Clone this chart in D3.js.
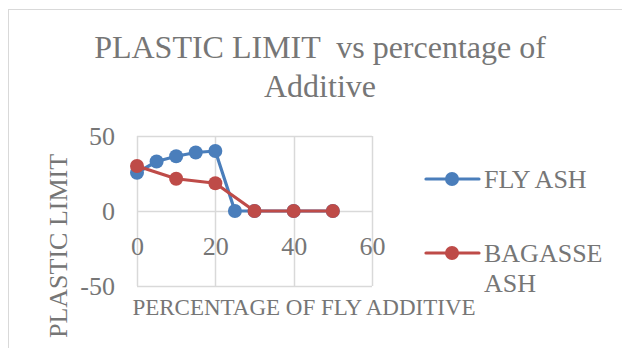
<!DOCTYPE html>
<html>
<head>
<meta charset="utf-8">
<script src="https://cdn.jsdelivr.net/npm/d3@7/dist/d3.min.js"></script>
<style>
  html, body { margin: 0; padding: 0; background: #fff; }
  svg { display: block; }
  text { font-family: "Liberation Serif", "Times New Roman", serif; fill: #767676; }
</style>
</head>
<body>
<svg id="chart" width="622" height="348"></svg>
<script>
// Percentage of additive (x) and plastic limit (y) for each additive
const flyAshX = [0, 5, 10, 15, 20, 25, 30, 40, 50];
const flyAshY = [25.5, 33, 36.5, 39, 40, 0, 0, 0, 0];
const bagasseX = [0, 10, 20, 30, 40, 50];
const bagasseY = [30, 21.5, 18.5, 0, 0, 0];

const xTicks = [0, 20, 40, 60];
const yTicks = [-50, 0, 50];

const seriesNames = ["FLY ASH", "BAGASSE ASH"];
const colors = ["#4a7ebb", "#be4b48"];

const serif = '"Liberation Serif", "Times New Roman", serif';
const svg = d3.select("#chart");

// outer chart frame
svg.append("rect")
  .attr("x", 8.5).attr("y", 9.5)
  .attr("width", 640).attr("height", 360)
  .attr("fill", "none").attr("stroke", "#d9d9d9").attr("stroke-width", 1);

const x = d3.scaleLinear().domain([0, 60]).range([137, 372]);
const y = d3.scaleLinear().domain([-50, 50]).range([286, 136]);

// gridlines
const grid = svg.append("g");
grid.selectAll("line.h").data(yTicks).join("line")
  .attr("x1", x(0)).attr("x2", x(60))
  .attr("y1", d => Math.round(y(d)) + 0.5).attr("y2", d => Math.round(y(d)) + 0.5)
  .attr("stroke", "#d9d9d9").attr("stroke-width", 1.5);
grid.selectAll("line.v").data(xTicks).join("line")
  .attr("y1", y(50)).attr("y2", y(-50))
  .attr("x1", d => Math.round(x(d)) + 0.5).attr("x2", d => Math.round(x(d)) + 0.5)
  .attr("stroke", "#d9d9d9").attr("stroke-width", 1.5);

// y tick labels
const yAxis = d3.axisLeft(y).tickValues(yTicks).tickSize(0).tickPadding(0).tickFormat(d => String(d));
const yg = svg.append("g").attr("transform", "translate(115,0)").call(yAxis)
  .attr("font-family", serif);
yg.select(".domain").remove();
yg.selectAll("text").attr("font-size", 26).attr("dy", "0.34em").attr("x", 0).style("fill", "#767676");

// x tick labels sit under the zero line
const xAxis = d3.axisBottom(x).tickValues(xTicks).tickSize(0).tickPadding(0).tickFormat(d => String(d));
const xg = svg.append("g").attr("transform", `translate(0,${y(0)})`).call(xAxis)
  .attr("font-family", serif);
xg.select(".domain").remove();
xg.selectAll("text").attr("font-size", 26).attr("dy", 0).attr("y", 44).style("fill", "#767676");

// series lines and markers
const series = [
  { name: seriesNames[0], xs: flyAshX, ys: flyAshY, color: colors[0] },
  { name: seriesNames[1], xs: bagasseX, ys: bagasseY, color: colors[1] }
];
const line = d3.line().x(d => x(d[0])).y(d => y(d[1]));
series.forEach(s => {
  const pts = s.xs.map((v, i) => [v, s.ys[i]]);
  svg.append("path").datum(pts)
    .attr("d", line).attr("fill", "none")
    .attr("stroke", s.color).attr("stroke-width", 3.2)
    .attr("stroke-linejoin", "round").attr("stroke-linecap", "round");
  svg.append("g").selectAll("circle").data(pts).join("circle")
    .attr("cx", d => x(d[0])).attr("cy", d => y(d[1])).attr("r", 7)
    .attr("fill", s.color);
});

// title
const title = svg.append("text").attr("text-anchor", "middle").attr("font-size", 32);
title.append("tspan").attr("x", 320).attr("y", 58).attr("xml:space", "preserve").text("PLASTIC LIMIT  vs percentage of");
title.append("tspan").attr("x", 320).attr("y", 97).text("Additive");

// axis titles
svg.append("text").attr("text-anchor", "middle").attr("font-size", 23)
  .attr("x", 304).attr("y", 315).text("PERCENTAGE OF FLY ADDITIVE");
svg.append("text").attr("text-anchor", "middle").attr("font-size", 26)
  .attr("transform", "translate(67,246) rotate(-90)").text("PLASTIC LIMIT");

// legend
const legendRows = [
  { lines: ["FLY ASH"], y: 179, color: colors[0] },
  { lines: ["BAGASSE", "ASH"], y: 253, color: colors[1] }
];
legendRows.forEach(r => {
  const g = svg.append("g");
  g.append("line").attr("x1", 426).attr("x2", 479).attr("y1", r.y).attr("y2", r.y)
    .attr("stroke", r.color).attr("stroke-width", 3.2).attr("stroke-linecap", "round");
  g.append("circle").attr("cx", 452).attr("cy", r.y).attr("r", 7).attr("fill", r.color);
  const t = g.append("text").attr("font-size", 26);
  r.lines.forEach((s, i) => {
    t.append("tspan").attr("x", 484).attr("y", r.y + 8.5 + i * 30).text(s);
  });
});
</script>
</body>
</html>
